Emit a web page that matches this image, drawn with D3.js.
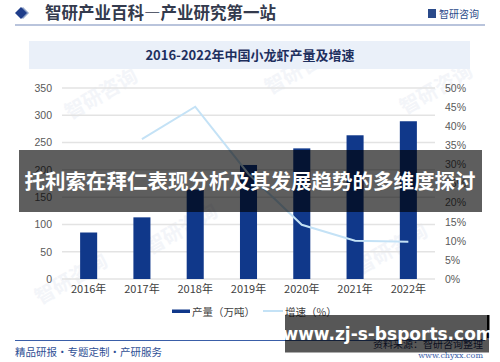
<!DOCTYPE html>
<html lang="zh">
<head>
<meta charset="UTF-8" />
<title>2016-2022年中国小龙虾产量及增速</title>
<script src="https://cdn.jsdelivr.net/npm/d3@7"></script>
<style>
  body { margin: 0; background: #fff; }
  text { font-family: "Noto Sans CJK SC", "Noto Sans", sans-serif; }
</style>
</head>
<body>
<div id="chart"></div>
<script>
// data
var years = ["2016年", "2017年", "2018年", "2019年", "2020年", "2021年", "2022年"]
var output = [85.2, 112.97, 163.87, 208.96, 239.37, 263.36, 289.07]   // 产量（万吨）
var growth = [null, 36.6, 45.1, 27.5, 14.2, 10.0, 9.76]               // 增速（%）
var leftTicks = [0, 50, 100, 150, 200, 250, 300, 350]
var rightTicks = [0, 5, 10, 15, 20, 25, 30, 35, 40, 45, 50]

var width = 500, height = 362
var svg = d3.select("#chart").append("svg")
  .attr("width", width).attr("height", height)

// faint watermarks
var wm = [[70, 120], [270, 95], [405, 115], [150, 255], [360, 275], [40, 305]]
wm.forEach(function(p) {
  svg.append("text")
    .attr("transform", "translate(" + p[0] + "," + p[1] + ") rotate(-30)")
    .attr("font-size", 20).attr("font-weight", 700)
    .attr("fill", "#f3f5f9")
    .text("智研咨询")
})

// header
svg.append("path").attr("d", "M23,7 L29,13 L23,19 L17,13 Z").attr("fill", "#8fa3c8")
svg.append("path").attr("d", "M21,7 L27,13 L21,19 L15,13 Z").attr("fill", "#1f3d8a")
svg.append("text").attr("x", 45).attr("y", 19)
  .attr("font-size", 16.5).attr("font-weight", 700).attr("fill", "#333a4d")
  .text("智研产业百科—产业研究第一站")
svg.append("rect").attr("x", 428).attr("y", 9).attr("width", 8).attr("height", 9).attr("fill", "#2a4a8a")
svg.append("text").attr("x", 439).attr("y", 18)
  .attr("font-size", 10).attr("fill", "#2a4a8a").text("智研咨询")
svg.append("line").attr("x1", 15).attr("x2", 485).attr("y1", 25).attr("y2", 25)
  .attr("stroke", "#b9c4dc").attr("stroke-width", 2)

// chart title box
svg.append("rect").attr("x", 29).attr("y", 41).attr("width", 441).attr("height", 28).attr("fill", "#eaf0f9")
svg.append("text").attr("x", 250).attr("y", 60).attr("text-anchor", "middle")
  .attr("font-size", 13).attr("font-weight", 700).attr("fill", "#1e2f5e")
  .text("2016-2022年中国小龙虾产量及增速")

// scales
var x = d3.scaleBand().domain(years).range([62, 435]).paddingInner(0.68).paddingOuter(0.34)
var yL = d3.scaleLinear().domain([0, 350]).range([279, 88])
var yR = d3.scaleLinear().domain([0, 50]).range([279, 88])

// grid
svg.append("g").selectAll("line").data(leftTicks).join("line")
  .attr("x1", 62).attr("x2", 435)
  .attr("y1", function(d) { return yL(d) }).attr("y2", function(d) { return yL(d) })
  .attr("stroke", "#e3e3e3").attr("stroke-width", 1.5)

// left axis
var axL = svg.append("g").attr("transform", "translate(52,0)")
  .call(d3.axisLeft(yL).tickValues(leftTicks).tickSize(0).tickPadding(0))
axL.select(".domain").remove()
axL.selectAll("text").attr("font-size", 10.5).attr("fill", "#595959")
  .style("font-family", "'Liberation Sans', Arial, sans-serif")

// right axis
var axR = svg.append("g").attr("transform", "translate(445,0)")
  .call(d3.axisRight(yR).tickValues(rightTicks).tickSize(0).tickPadding(0)
    .tickFormat(function(d) { return d + "%" }))
axR.select(".domain").remove()
axR.selectAll("text").attr("font-size", 10.5).attr("fill", "#595959")
  .style("font-family", "'Liberation Sans', Arial, sans-serif")

// bottom axis labels
var axB = svg.append("g").attr("transform", "translate(0,285)")
  .call(d3.axisBottom(x).tickSize(0).tickPadding(0))
axB.select(".domain").remove()
axB.selectAll("text").attr("font-size", 11).attr("fill", "#404040").attr("dy", "0.75em")

// bars
svg.append("g").selectAll("rect").data(output).join("rect")
  .attr("x", function(d, i) { return x(years[i]) })
  .attr("width", x.bandwidth())
  .attr("y", function(d) { return yL(d) })
  .attr("height", function(d) { return yL(0) - yL(d) })
  .attr("fill", "#10388a")

// growth line
var line = d3.line()
  .defined(function(d) { return d != null })
  .x(function(d, i) { return x(years[i]) + x.bandwidth() / 2 })
  .y(function(d) { return yR(d) })
svg.append("path").datum(growth)
  .attr("d", line).attr("fill", "none")
  .attr("stroke", "#c4e2f6").attr("stroke-width", 2)

// legend
svg.append("rect").attr("x", 172).attr("y", 309.5).attr("width", 18).attr("height", 3.5).attr("fill", "#10388a")
svg.append("text").attr("x", 192).attr("y", 315.5).attr("font-size", 10.5).attr("fill", "#404040").text("产量（万吨）")
svg.append("line").attr("x1", 263).attr("x2", 283).attr("y1", 311).attr("y2", 311)
  .attr("stroke", "#c4e2f6").attr("stroke-width", 2)
svg.append("text").attr("x", 285).attr("y", 315.5).attr("font-size", 10.5).attr("fill", "#404040").text("增速（%）")

// footer
svg.append("line").attr("x1", 15).attr("x2", 485).attr("y1", 340.5).attr("y2", 340.5)
  .attr("stroke", "#3a5ea8").attr("stroke-width", 1.2)
svg.append("text").attr("x", 15).attr("y", 356).attr("font-size", 10.5).attr("fill", "#2f4f95")
  .text("精品研报・专题定制・产研服务")
svg.append("text").attr("x", 483).attr("y", 348).attr("text-anchor", "end")
  .attr("font-size", 10).attr("fill", "#1e2f5e").text("资料来源：智研咨询整理")
svg.append("text").attr("x", 483).attr("y", 358).attr("text-anchor", "end")
  .attr("font-size", 8).attr("fill", "#3a5ea8").style("font-family", "'DejaVu Serif', serif")
  .text("www.chyxx.com")

// overlay banners
svg.append("rect").attr("x", 19).attr("y", 150).attr("width", 463).attr("height", 62)
  .attr("fill", "rgba(0,0,0,0.63)")
svg.append("text").attr("x", 250).attr("y", 189).attr("text-anchor", "middle")
  .attr("font-size", 20.5).attr("font-weight", 700).attr("fill", "#fff")
  .text("托利索在拜仁表现分析及其发展趋势的多维度探讨")
svg.append("rect").attr("x", 285).attr("y", 315).attr("width", 204).attr("height", 37.5)
  .attr("fill", "rgba(0,0,0,0.66)")
svg.append("rect").attr("x", 487).attr("y", 315).attr("width", 2.5).attr("height", 23).attr("fill", "#000")
svg.append("text").attr("x", 388).attr("y", 340).attr("text-anchor", "middle")
  .attr("font-size", 17).attr("font-weight", 700).attr("fill", "#fff")
  .style("font-family", "'DejaVu Sans', sans-serif")
  .text("www.zj-s-bsports.com")
</script>
</body>
</html>
